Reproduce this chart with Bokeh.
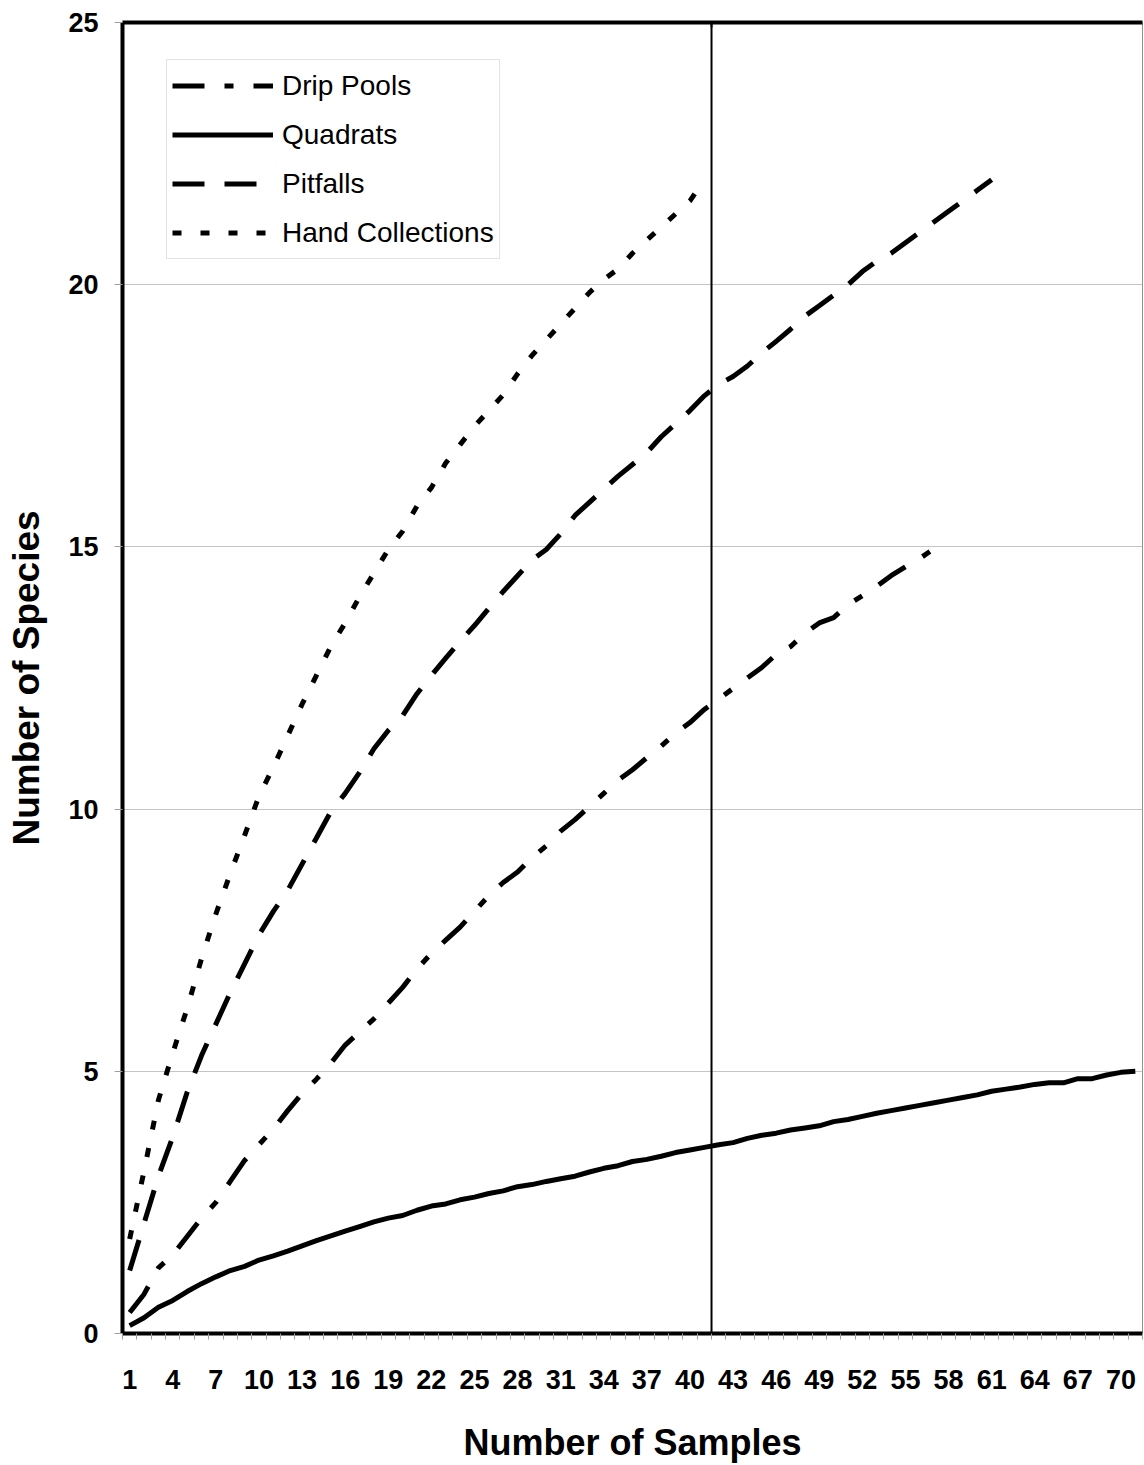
from bokeh.plotting import figure
from bokeh.models import Range1d, FixedTicker, LinearAxis, Legend, LegendItem, BoxAnnotation, Label
from bokeh.embed import file_html
from bokeh.resources import INLINE

# ---- data ----
series_names = ["Drip Pools", "Quadrats", "Pitfalls", "Hand Collections"]

drip_pools = [0.4, 0.75, 1.25, 1.5, 1.85, 2.2, 2.5, 2.9, 3.3, 3.6,
              3.9, 4.25, 4.58, 4.85, 5.15, 5.5, 5.75, 6.0, 6.3, 6.6,
              6.95, 7.25, 7.5, 7.75, 8.05, 8.35, 8.6, 8.8, 9.07, 9.3,
              9.58, 9.8, 10.05, 10.3, 10.55, 10.75, 10.98, 11.2, 11.45, 11.65,
              11.9, 12.1, 12.3, 12.5, 12.7, 12.95, 13.1, 13.35, 13.55, 13.65,
              13.9, 14.07, 14.25, 14.45, 14.62, 14.78, 14.97]

quadrats = [0.15, 0.3, 0.5, 0.63, 0.8, 0.95, 1.08, 1.2, 1.28, 1.4,
            1.48, 1.57, 1.67, 1.77, 1.86, 1.95, 2.04, 2.13, 2.2, 2.25,
            2.35, 2.43, 2.47, 2.55, 2.6, 2.67, 2.72, 2.8, 2.84, 2.9,
            2.95, 3.0, 3.08, 3.15, 3.2, 3.28, 3.32, 3.38, 3.45, 3.5,
            3.55, 3.6, 3.64, 3.72, 3.78, 3.82, 3.88, 3.92, 3.96, 4.04,
            4.08, 4.14, 4.2, 4.25, 4.3, 4.35, 4.4, 4.45, 4.5, 4.55,
            4.62, 4.66, 4.7, 4.75, 4.78, 4.78, 4.86, 4.86, 4.93, 4.98,
            5.0]

pitfalls = [1.2, 2.1, 3.0, 3.75, 4.6, 5.3, 5.9, 6.5, 7.05, 7.6,
            8.05, 8.45, 8.95, 9.45, 9.95, 10.3, 10.7, 11.15, 11.5, 11.78,
            12.2, 12.55, 12.88, 13.2, 13.5, 13.83, 14.15, 14.45, 14.75, 14.95,
            15.25, 15.6, 15.85, 16.1, 16.35, 16.57, 16.8, 17.1, 17.35, 17.6,
            17.88, 18.1, 18.25, 18.45, 18.7, 18.92, 19.15, 19.4, 19.6, 19.8,
            20.0, 20.25, 20.45, 20.6, 20.8, 21.0, 21.2, 21.4, 21.6, 21.8,
            22.0]

hand_collections = [1.8, 3.1, 4.45, 5.35, 6.2, 7.15, 8.0, 8.77, 9.5, 10.25,
                    10.8, 11.4, 12.0, 12.55, 13.1, 13.55, 14.05, 14.5, 14.95, 15.3,
                    15.78, 16.13, 16.6, 16.95, 17.3, 17.6, 17.9, 18.3, 18.65, 18.95,
                    19.25, 19.55, 19.85, 20.1, 20.3, 20.6, 20.85, 21.1, 21.35, 21.6,
                    22.0]

n_samples = 71
x_tick_labels = list(range(1, 71, 3))
y_tick_labels = [0, 5, 10, 15, 20, 25]
marker_sample = 41.5

# ---- figure ----
p = figure(width=1144, height=1465, output_backend="svg", toolbar_location=None,
           x_range=Range1d(0.5, n_samples + 0.5), y_range=Range1d(0, 25),
           min_border_left=122, min_border_right=2, min_border_top=22, min_border_bottom=131,
           background_fill_color="white", border_fill_color="white")
p.outline_line_color = "#909090"
p.outline_line_width = 1

styles = {
    "Drip Pools": "32 20 9 20",
    "Quadrats": "solid",
    "Pitfalls": "32 20",
    "Hand Collections": "9 19",
}
data = {
    "Drip Pools": drip_pools,
    "Quadrats": quadrats,
    "Pitfalls": pitfalls,
    "Hand Collections": hand_collections,
}

items = []
for name in series_names:
    ys = data[name]
    xs = list(range(1, len(ys) + 1))
    r = p.line(xs, ys, line_color="black", line_width=5, line_dash=styles[name],
               line_join="round")
    items.append(LegendItem(label=name, renderers=[r]))

# axes
xa = p.xaxis[0]
xa.ticker = FixedTicker(ticks=x_tick_labels,
                        minor_ticks=[k + 0.5 for k in range(0, n_samples + 1)])
xa.axis_line_width = 4
xa.axis_line_color = "black"
xa.major_tick_out = 0
xa.major_tick_in = 0
xa.minor_tick_out = 6
xa.minor_tick_in = 0
xa.minor_tick_line_color = "#a0a0a0"
xa.major_label_text_font = "Liberation Sans"
xa.major_label_text_font_style = "bold"
xa.major_label_text_font_size = "27px"
xa.major_label_text_color = "black"
xa.major_label_standoff = 30
xa.axis_label = "Number of Samples"
xa.axis_label_text_font = "Liberation Sans"
xa.axis_label_text_font_style = "bold"
xa.axis_label_text_font_size = "36px"
xa.axis_label_text_color = "black"
xa.axis_label_standoff = 30

ya = p.yaxis[0]
ya.ticker = FixedTicker(ticks=y_tick_labels)
ya.axis_line_width = 4
ya.axis_line_color = "black"
ya.major_tick_out = 8
ya.major_tick_in = 0
ya.major_tick_line_color = "#a0a0a0"
ya.minor_tick_out = 0
ya.minor_tick_in = 0
ya.major_label_text_font = "Liberation Sans"
ya.major_label_text_font_style = "bold"
ya.major_label_text_font_size = "27px"
ya.major_label_text_color = "black"
ya.major_label_standoff = 16
ya.axis_label = "Number of Species"
ya.axis_label_text_font = "Liberation Sans"
ya.axis_label_text_font_style = "bold"
ya.axis_label_text_font_size = "37px"
ya.axis_label_text_color = "black"
ya.axis_label_standoff = 18

top_axis = LinearAxis(ticker=FixedTicker(ticks=[]), axis_line_width=4, axis_line_color="black",
                      major_tick_out=0, major_tick_in=0, minor_tick_out=0, minor_tick_in=0,
                      major_label_text_font_size="0px")
p.add_layout(top_axis, "above")

p.xgrid.visible = False
p.ygrid.ticker = FixedTicker(ticks=y_tick_labels)
p.ygrid.grid_line_color = "#c4c4c4"
p.ygrid.grid_line_width = 1

# vertical marker line
vline = BoxAnnotation(left=marker_sample, right=marker_sample,
                      fill_alpha=0, line_color="black", line_width=2, line_alpha=1)
p.add_layout(vline)
# small extensions of the marker line beyond the frame (thin bar glyphs)
ext_top = Label(x=marker_sample, y=25, text="|", text_font_size="22px",
                text_font="DejaVu Sans", text_color="black",
                anchor="bottom_center", y_offset=-4)
ext_bottom = Label(x=marker_sample, y=0, text="|", text_font_size="22px",
                   text_font="DejaVu Sans", text_color="black",
                   anchor="top_center", y_offset=4)
p.add_layout(ext_top)
p.add_layout(ext_bottom)

legend = Legend(items=items, location=(44, 1074),
                label_text_font="Liberation Sans", label_text_font_size="28px",
                label_text_color="black", glyph_width=101, glyph_height=41,
                label_height=41, label_standoff=9, spacing=8, padding=5,
                border_line_color="#c8c8c8", border_line_width=1,
                background_fill_color="white", background_fill_alpha=1)
p.add_layout(legend, "center")

open("out.html", "w").write(file_html(p, INLINE))
